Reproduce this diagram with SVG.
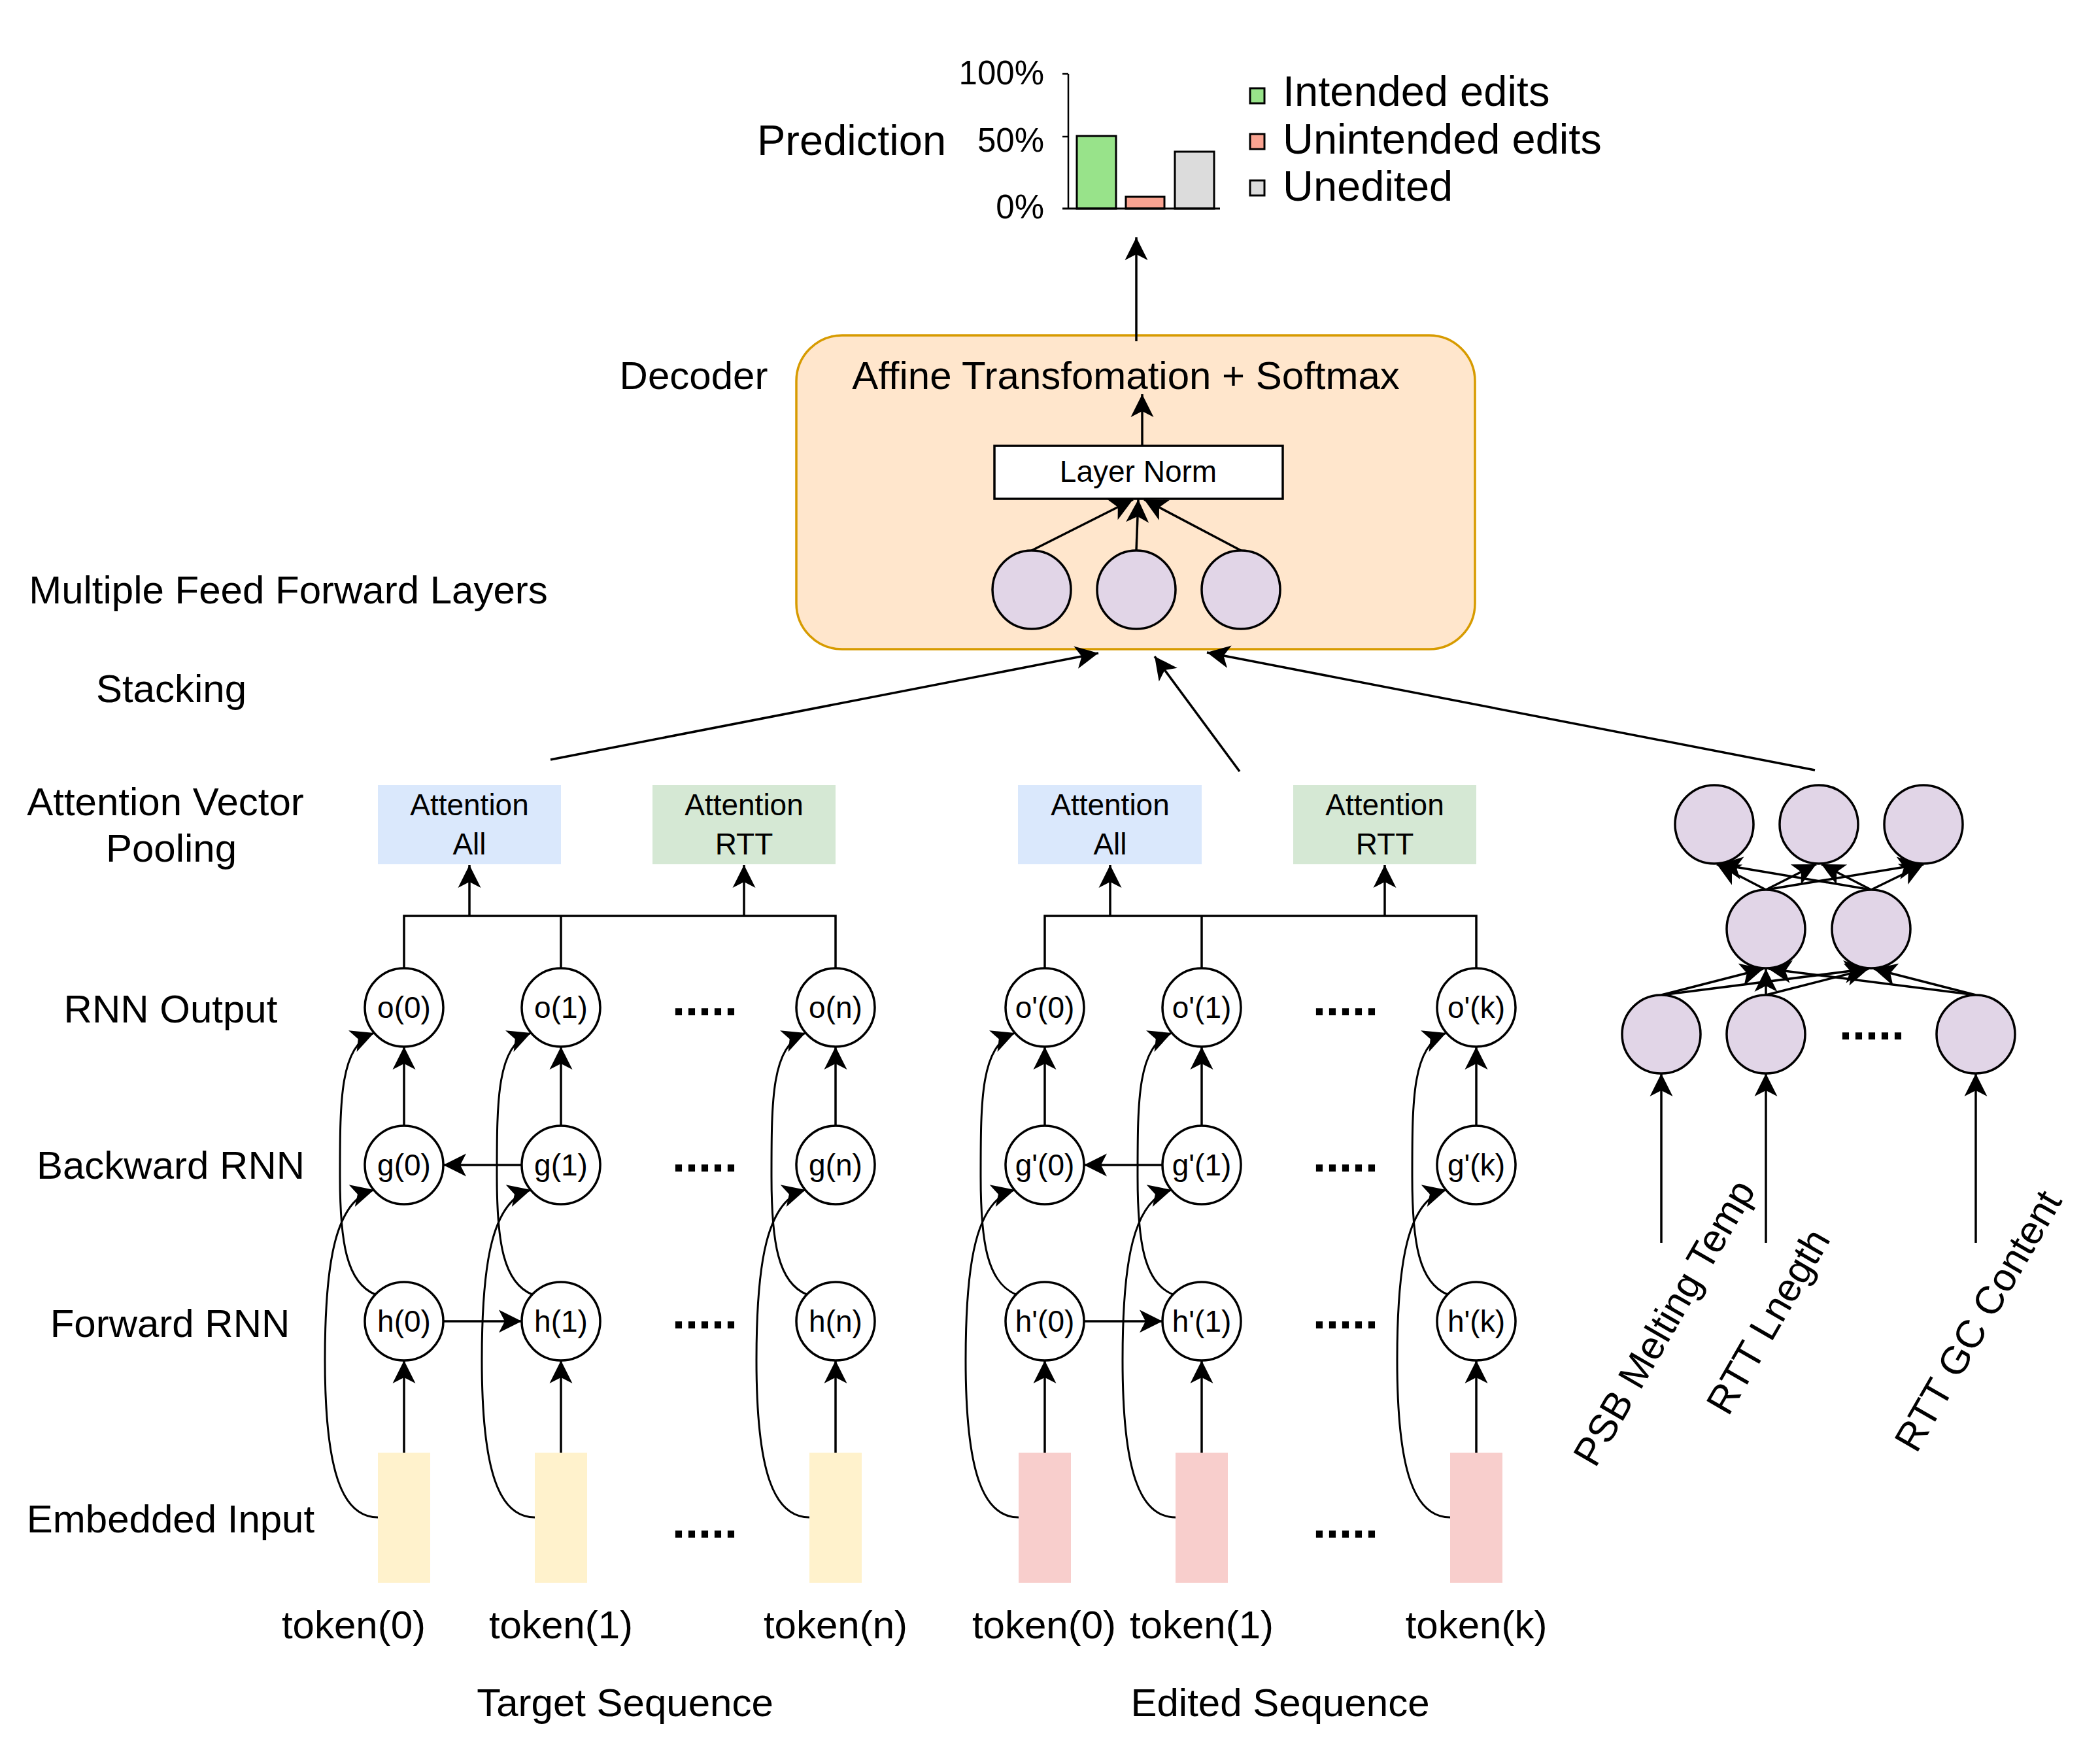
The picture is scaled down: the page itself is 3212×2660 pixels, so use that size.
<svg xmlns="http://www.w3.org/2000/svg" width="3212" height="2660" viewBox="0 0 3212 2660">
<defs>
<style>
text{font-family:"Liberation Sans",Arial,Helvetica,sans-serif;fill:#000}
.lbl{font-size:60px;text-anchor:middle}
.nt{font-size:46px;text-anchor:middle}
.dots{font-size:72px;text-anchor:middle;font-weight:bold}
.leg{font-size:65px}
.pct{font-size:51px;text-anchor:end}
.node{fill:#fff;stroke:#000;stroke-width:3.5}
.neu{fill:#e1d5e7;stroke:#000;stroke-width:3.5}
.ln{fill:none;stroke:#000;stroke-width:3.5}
.cv{fill:none;stroke:#000;stroke-width:3}
.a{marker-end:url(#arr)}
.emT{fill:#fff2cc}
.emE{fill:#f8cecc}
.attA{fill:#dae8fc}
.attR{fill:#d5e8d4}
.bar{stroke:#000;stroke-width:3}
</style>
<marker id="arr" markerUnits="userSpaceOnUse" viewBox="-36 -18 37 36" markerWidth="37" markerHeight="36" refX="0" refY="0" orient="auto">
<path d="M0,0 L-35,-17.5 L-26,0 L-35,17.5 Z" fill="#000"/>
</marker>
</defs>
<rect width="3212" height="2660" fill="#fff"/>

<g id="chart">
<line x1="1634" y1="113" x2="1634" y2="319" stroke="#000" stroke-width="2.5"/>
<line x1="1625" y1="113" x2="1634" y2="113" stroke="#000" stroke-width="2.5"/>
<line x1="1625" y1="209" x2="1634" y2="209" stroke="#000" stroke-width="2.5"/>
<rect class="bar" x="1647" y="208" width="60" height="111" fill="#98e38a"/>
<rect class="bar" x="1722" y="301" width="59" height="18" fill="#f9a391"/>
<rect class="bar" x="1797" y="232" width="60" height="87" fill="#dcdcdc"/>
<line x1="1625" y1="319" x2="1866" y2="319" stroke="#000" stroke-width="3"/>
<text x="1158" y="237" class="leg">Prediction</text>
<text x="1597" y="129" class="pct">100%</text>
<text x="1597" y="232" class="pct">50%</text>
<text x="1597" y="334" class="pct">0%</text>
<rect class="bar" x="1912" y="135" width="22" height="23" fill="#98e38a"/>
<rect class="bar" x="1912" y="205" width="22" height="23" fill="#f9a391"/>
<rect class="bar" x="1912" y="276" width="22" height="23" fill="#dcdcdc"/>
<text x="1962" y="162" class="leg">Intended edits</text>
<text x="1962" y="235" class="leg">Unintended edits</text>
<text x="1962" y="307" class="leg">Unedited</text>
</g>

<g id="labels">
<text x="1061" y="595" class="lbl">Decoder</text>
<text x="441" y="923" class="lbl">Multiple Feed Forward Layers</text>
<text x="262" y="1074" class="lbl">Stacking</text>
<text x="253" y="1247" class="lbl">Attention Vector</text>
<text x="262" y="1318" class="lbl">Pooling</text>
<text x="261" y="1564" class="lbl">RNN Output</text>
<text x="261" y="1803" class="lbl">Backward RNN</text>
<text x="260" y="2045" class="lbl">Forward RNN</text>
<text x="261" y="2344" class="lbl">Embedded Input</text>
<text x="956" y="2625" class="lbl">Target Sequence</text>
<text x="1958" y="2625" class="lbl">Edited Sequence</text>
<text x="541" y="2506" class="lbl">token(0)</text>
<text x="858" y="2506" class="lbl">token(1)</text>
<text x="1278" y="2506" class="lbl">token(n)</text>
<text x="1597" y="2506" class="lbl">token(0)</text>
<text x="1838" y="2506" class="lbl">token(1)</text>
<text x="2258" y="2506" class="lbl">token(k)</text>
<text class="lbl" transform="translate(2545,2023) rotate(-60)" x="0" y="21">PSB Melting Temp</text>
<text class="lbl" transform="translate(2704,2021) rotate(-60)" x="0" y="21">RTT Lnegth</text>
<text class="lbl" transform="translate(3025,2020) rotate(-60)" x="0" y="21">RTT GC Content</text>
<text x="1078" y="1553" class="dots">.....</text>
<text x="1078" y="1792" class="dots">.....</text>
<text x="1078" y="2032" class="dots">.....</text>
<text x="1078" y="2352" class="dots">.....</text>
<text x="2058" y="1553" class="dots">.....</text>
<text x="2058" y="1792" class="dots">.....</text>
<text x="2058" y="2032" class="dots">.....</text>
<text x="2058" y="2352" class="dots">.....</text>
<text x="2863" y="1590" class="dots">.....</text>
</g>

<g id="decoder">
<rect x="1218" y="513" width="1038" height="480" rx="70" ry="70" fill="#ffe6cc" stroke="#d79b00" stroke-width="3.5"/>
<text x="1722" y="595" class="lbl">Affine Transfomation + Softmax</text>
</g>
<g id="layernorm">
<rect x="1521" y="682" width="441" height="81" fill="#fff" stroke="#000" stroke-width="3.5"/>
<text x="1741" y="737" class="nt">Layer Norm</text>
</g>
<g id="dec-neurons">
<circle class="neu" cx="1578" cy="902" r="60"/>
<circle class="neu" cx="1738" cy="902" r="60"/>
<circle class="neu" cx="1898" cy="902" r="60"/>
</g>

<g id="attention">
<rect class="attA" x="578" y="1201" width="280" height="121"/>
<text x="718" y="1247" class="nt">Attention</text><text x="718" y="1307" class="nt">All</text>
<rect class="attR" x="998" y="1201" width="280" height="121"/>
<text x="1138" y="1247" class="nt">Attention</text><text x="1138" y="1307" class="nt">RTT</text>
<rect class="attA" x="1557" y="1201" width="281" height="121"/>
<text x="1698" y="1247" class="nt">Attention</text><text x="1698" y="1307" class="nt">All</text>
<rect class="attR" x="1978" y="1201" width="280" height="121"/>
<text x="2118" y="1247" class="nt">Attention</text><text x="2118" y="1307" class="nt">RTT</text>
</g>

<g id="embeddings">
<rect class="emT" x="578" y="2222" width="80" height="199"/>
<rect class="emT" x="818" y="2222" width="80" height="199"/>
<rect class="emT" x="1238" y="2222" width="80" height="199"/>
<rect class="emE" x="1558" y="2222" width="80" height="199"/>
<rect class="emE" x="1798" y="2222" width="80" height="199"/>
<rect class="emE" x="2218" y="2222" width="80" height="199"/>
</g>

<g id="connectors">
<path class="ln a" d="M1738 522 L1738 363"/>
<path class="ln a" d="M1747 682 L1747 603"/>
<path class="ln a" d="M1578 842 L1733 764"/>
<path class="ln a" d="M1738 842 L1741 764"/>
<path class="ln a" d="M1898 842 L1750 764"/>
<path class="ln a" d="M842 1162 L1680 999"/>
<path class="ln a" d="M1896 1180 L1766 1004"/>
<path class="ln a" d="M2776 1178 L1846 998"/>
<path class="ln" d="M618 1481 L618 1401 L1278 1401 L1278 1481 M858 1401 L858 1481"/>
<path class="ln a" d="M718 1401 L718 1323"/>
<path class="ln a" d="M1138 1401 L1138 1323"/>
<path class="ln" d="M1598 1481 L1598 1401 L2258 1401 L2258 1481 M1838 1401 L1838 1481"/>
<path class="ln a" d="M1698 1401 L1698 1323"/>
<path class="ln a" d="M2118 1401 L2118 1323"/>
<path class="ln a" d="M618 1722 L618 1601"/><path class="ln a" d="M618 2222 L618 2081"/>
<path class="ln a" d="M858 1722 L858 1601"/><path class="ln a" d="M858 2222 L858 2081"/>
<path class="ln a" d="M1278 1722 L1278 1601"/><path class="ln a" d="M1278 2222 L1278 2081"/>
<path class="ln a" d="M1598 1722 L1598 1601"/><path class="ln a" d="M1598 2222 L1598 2081"/>
<path class="ln a" d="M1838 1722 L1838 1601"/><path class="ln a" d="M1838 2222 L1838 2081"/>
<path class="ln a" d="M2258 1722 L2258 1601"/><path class="ln a" d="M2258 2222 L2258 2081"/>
<path class="ln a" d="M798 1782 L678 1782"/>
<path class="ln a" d="M678 2021 L798 2021"/>
<path class="ln a" d="M1778 1782 L1658 1782"/>
<path class="ln a" d="M1658 2021 L1778 2021"/>
<path class="cv a" d="M578 2321 C523 2321 497 2250 497 2080 C497 1930 513 1836 572 1820"/>
<path class="cv a" d="M818 2321 C763 2321 737 2250 737 2080 C737 1930 753 1836 812 1820"/>
<path class="cv a" d="M1238 2321 C1183 2321 1157 2250 1157 2080 C1157 1930 1173 1836 1232 1820"/>
<path class="cv a" d="M1558 2321 C1503 2321 1477 2250 1477 2080 C1477 1930 1493 1836 1552 1820"/>
<path class="cv a" d="M1798 2321 C1743 2321 1717 2250 1717 2080 C1717 1930 1733 1836 1792 1820"/>
<path class="cv a" d="M2218 2321 C2163 2321 2137 2250 2137 2080 C2137 1930 2153 1836 2212 1820"/>
<path class="cv a" d="M574 1980 C530 1962 520 1900 520 1800 C520 1680 520 1600 572 1580"/>
<path class="cv a" d="M814 1980 C770 1962 760 1900 760 1800 C760 1680 760 1600 812 1580"/>
<path class="cv a" d="M1234 1980 C1190 1962 1180 1900 1180 1800 C1180 1680 1180 1600 1232 1580"/>
<path class="cv a" d="M1554 1980 C1510 1962 1500 1900 1500 1800 C1500 1680 1500 1600 1552 1580"/>
<path class="cv a" d="M1794 1980 C1750 1962 1740 1900 1740 1800 C1740 1680 1740 1600 1792 1580"/>
<path class="cv a" d="M2214 1980 C2170 1962 2160 1900 2160 1800 C2160 1680 2160 1600 2212 1580"/>
<path class="ln a" d="M2541 1901 L2541 1642"/>
<path class="ln a" d="M2701 1901 L2701 1642"/>
<path class="ln a" d="M3022 1901 L3022 1642"/>
<path class="ln a" d="M2541 1522 L2697 1482"/>
<path class="ln a" d="M2541 1522 L2856 1482"/>
<path class="ln a" d="M2701 1522 L2701 1482"/>
<path class="ln a" d="M2701 1522 L2858 1482"/>
<path class="ln a" d="M3022 1522 L2705 1482"/>
<path class="ln a" d="M3022 1522 L2866 1482"/>
<path class="ln a" d="M2701 1361 L2626 1322"/>
<path class="ln a" d="M2701 1361 L2778 1322"/>
<path class="ln a" d="M2701 1361 L2938 1322"/>
<path class="ln a" d="M2862 1361 L2630 1322"/>
<path class="ln a" d="M2862 1361 L2786 1322"/>
<path class="ln a" d="M2862 1361 L2942 1322"/>
</g>

<g id="rnn-target">
<circle class="node" cx="618" cy="1541" r="60"/><text x="618" y="1557" class="nt">o(0)</text>
<circle class="node" cx="858" cy="1541" r="60"/><text x="858" y="1557" class="nt">o(1)</text>
<circle class="node" cx="1278" cy="1541" r="60"/><text x="1278" y="1557" class="nt">o(n)</text>
<circle class="node" cx="618" cy="1782" r="60"/><text x="618" y="1798" class="nt">g(0)</text>
<circle class="node" cx="858" cy="1782" r="60"/><text x="858" y="1798" class="nt">g(1)</text>
<circle class="node" cx="1278" cy="1782" r="60"/><text x="1278" y="1798" class="nt">g(n)</text>
<circle class="node" cx="618" cy="2021" r="60"/><text x="618" y="2037" class="nt">h(0)</text>
<circle class="node" cx="858" cy="2021" r="60"/><text x="858" y="2037" class="nt">h(1)</text>
<circle class="node" cx="1278" cy="2021" r="60"/><text x="1278" y="2037" class="nt">h(n)</text>
</g>
<g id="rnn-edited">
<circle class="node" cx="1598" cy="1541" r="60"/><text x="1598" y="1557" class="nt">o'(0)</text>
<circle class="node" cx="1838" cy="1541" r="60"/><text x="1838" y="1557" class="nt">o'(1)</text>
<circle class="node" cx="2258" cy="1541" r="60"/><text x="2258" y="1557" class="nt">o'(k)</text>
<circle class="node" cx="1598" cy="1782" r="60"/><text x="1598" y="1798" class="nt">g'(0)</text>
<circle class="node" cx="1838" cy="1782" r="60"/><text x="1838" y="1798" class="nt">g'(1)</text>
<circle class="node" cx="2258" cy="1782" r="60"/><text x="2258" y="1798" class="nt">g'(k)</text>
<circle class="node" cx="1598" cy="2021" r="60"/><text x="1598" y="2037" class="nt">h'(0)</text>
<circle class="node" cx="1838" cy="2021" r="60"/><text x="1838" y="2037" class="nt">h'(1)</text>
<circle class="node" cx="2258" cy="2021" r="60"/><text x="2258" y="2037" class="nt">h'(k)</text>
</g>
<g id="ffn">
<circle class="neu" cx="2622" cy="1261" r="60"/>
<circle class="neu" cx="2782" cy="1261" r="60"/>
<circle class="neu" cx="2942" cy="1261" r="60"/>
<circle class="neu" cx="2701" cy="1421" r="60"/>
<circle class="neu" cx="2862" cy="1421" r="60"/>
<circle class="neu" cx="2541" cy="1582" r="60"/>
<circle class="neu" cx="2701" cy="1582" r="60"/>
<circle class="neu" cx="3022" cy="1582" r="60"/>
</g>
</svg>
